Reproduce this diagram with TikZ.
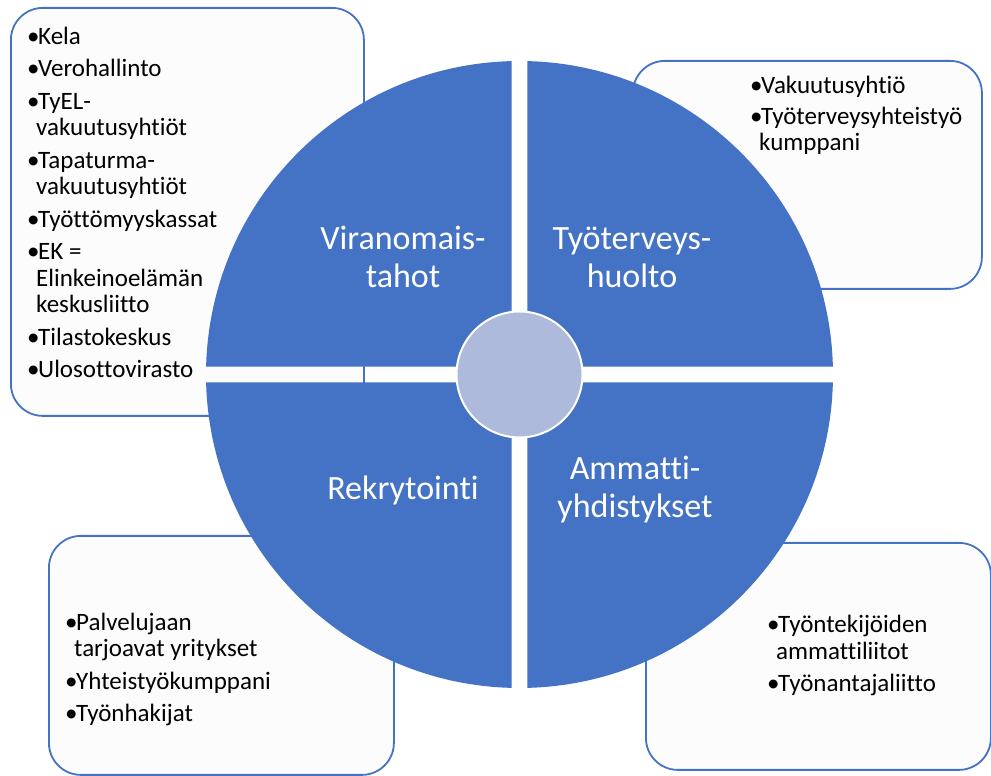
\documentclass[tikz,border=0pt]{standalone}
\usepackage{fontspec}
\setmainfont{Carlito}[Ligatures=NoCommon]
\usepackage{tikz}
\usetikzlibrary{calc}
\definecolor{wheel}{RGB}{68,114,196}
\definecolor{hubfill}{RGB}{174,186,220}
\definecolor{paper}{RGB}{252,252,252}
\tikzset{
  card/.style={draw=wheel,line width=1.8pt,fill=paper,rounded corners=32pt,anchor=north west,inner sep=0pt},
  quarter/.style={fill=wheel},
  listtext/.style={font=\fontsize{25}{26.5}\selectfont,text=black,align=left,anchor=base west,inner sep=0pt},
  wheeltext/.style={font=\fontsize{34}{38}\selectfont,text=white,align=center,anchor=base,inner sep=0pt}
}
\newcommand{\bul}{\makebox[11pt][l]{•}}
\newcommand{\cont}{\hspace*{9pt}}
\begin{document}
\begin{tikzpicture}[x=1pt,y=1pt]
  \useasboundingbox (0,0) rectangle (991,776);
  \node[card,minimum width=353,minimum height=408] (authbox) at (10,769) {};
  \node[card,minimum width=349,minimum height=228] (carebox) at (632,716) {};
  \node[card,minimum width=345,minimum height=239] (hirebox) at (48,241) {};
  \node[card,minimum width=345,minimum height=227] (unionbox) at (645,234) {};
  \coordinate (mid) at (519.5,401.5);
  \foreach \q in {0,90,180,270}
    \fill[quarter] ($(mid)+(\q+45:11.3)$) -- ($(mid)+(\q+1.46:313.5)$)
      arc[start angle=\q+1.46,end angle=\q+88.54,radius=313.5] -- cycle;
  \node[circle,fill=hubfill,draw=white,line width=2pt,minimum size=126,inner sep=0pt] (core) at (mid) {};
  \node[wheeltext] (auth) at (403,488) {Viranomais-\\tahot};
  \node[wheeltext] (care) at (632,488) {Työterveys-\\huolto};
  \node[wheeltext] (hire) at (403,276) {Rekrytointi};
  \node[wheeltext] (union) at (635,258) {Ammatti-\\yhdistykset};
  \node[listtext] (authlist) at (27,398) {\bul Kela\\[6pt]
    \bul Verohallinto\\[6pt]
    \bul TyEL-\\ \cont vakuutusyhtiöt\\[6pt]
    \bul Tapaturma-\\ \cont vakuutusyhtiöt\\[6pt]
    \bul Työttömyyskassat\\[6pt]
    \bul EK =\\ \cont Elinkeinoelämän\\ \cont keskusliitto\\[6pt]
    \bul Tilastokeskus\\[6pt]
    \bul Ulosottovirasto};
  \node[listtext] (carelist) at (750,625) {\bul Vakuutusyhtiö\\[4pt]
    \bul Työterveysyhteistyö\\ \cont kumppani};
  \node[listtext] (hirelist) at (65,54) {\bul Palvelujaan\\ \cont tarjoavat yritykset\\[6pt]
    \bul Yhteistyökumppani\\[6pt]
    \bul Työnhakijat};
  \node[listtext] (unionlist) at (767,84) {\bul Työntekijöiden\\ \cont ammattiliitot\\[6pt]
    \bul Työnantajaliitto};
\end{tikzpicture}
\end{document}
